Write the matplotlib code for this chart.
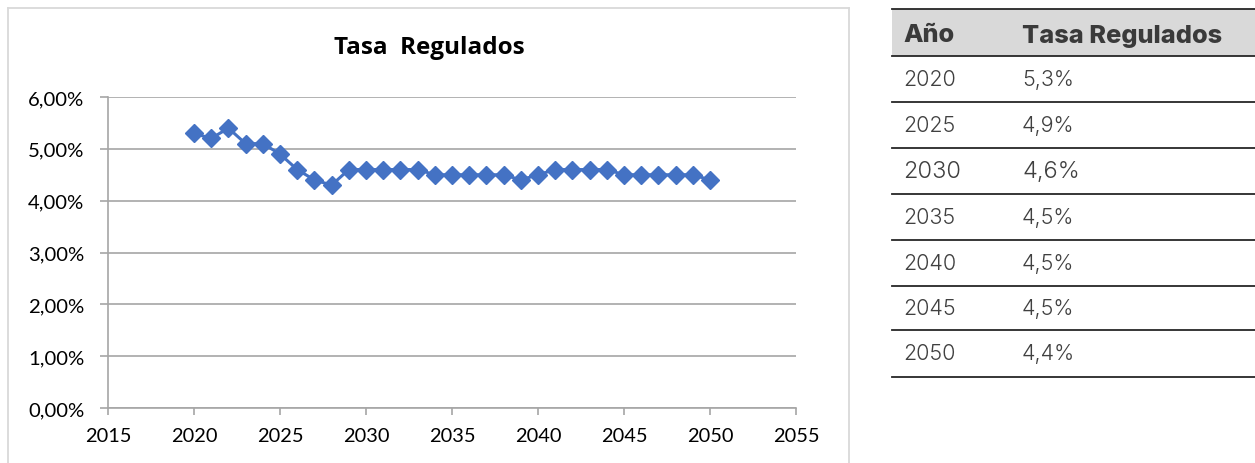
import matplotlib
matplotlib.use("Agg")
import matplotlib.pyplot as plt
from matplotlib.lines import Line2D
from matplotlib.patches import Rectangle
from matplotlib.ticker import FuncFormatter

years = list(range(2020, 2051))
tasa = [5.3, 5.2, 5.4, 5.1, 5.1, 4.9, 4.6, 4.4, 4.3, 4.6,
        4.6, 4.6, 4.6, 4.6, 4.5, 4.5, 4.5, 4.5, 4.5, 4.4,
        4.5, 4.6, 4.6, 4.6, 4.6, 4.5, 4.5, 4.5, 4.5, 4.5,
        4.4]
x_ticks = [2015, 2020, 2025, 2030, 2035, 2040, 2045, 2050, 2055]
y_ticks = [0, 1, 2, 3, 4, 5, 6]
title = "Tasa  Regulados"
table_header = ["Año", "Tasa Regulados"]
table_years = [2020, 2025, 2030, 2035, 2040, 2045, 2050]
table_values = ["5,3%", "4,9%", "4,6%", "4,5%", "4,5%", "4,5%", "4,4%"]

W, H = 1255, 464
fig = plt.figure(figsize=(W / 100, H / 100), dpi=100)

def fx(px):
    return px / W

def fy(py):
    return 1 - py / H

# Chart border (bottom runs off the image)
border = "#D9D9D9"
for xs, ys in [([8, 8], [9, 470]), ([849, 849], [9, 470]), ([8, 849], [9, 9])]:
    fig.add_artist(Line2D([fx(v) for v in xs], [fy(v) for v in ys],
                          color=border, lw=1.3))

ax = fig.add_axes([fx(108), fy(409), fx(796) - fx(108), fy(98) - fy(409)])
ax.plot(years, tasa, color="#4472C4", lw=2.2, marker="D", markersize=8.8,
        markerfacecolor="#4472C4", markeredgecolor="#4472C4", zorder=3)
ax.set_xlim(2015, 2055)
ax.set_ylim(0, 6)
ax.set_xticks(x_ticks)
ax.set_yticks(y_ticks)
ax.yaxis.set_major_formatter(FuncFormatter(lambda v, p: f"{v:.2f}%".replace(".", ",")))
grid_c = "#A6A6A6"
ax.grid(axis="y", color=grid_c, lw=1.2, zorder=0)
for s in ["top", "right"]:
    ax.spines[s].set_visible(False)
for s in ["left", "bottom"]:
    ax.spines[s].set_color(grid_c)
    ax.spines[s].set_linewidth(1.2)
ax.tick_params(axis="y", direction="out", length=6, width=1.2, color=grid_c,
               pad=11, labelsize=14.6, labelcolor="#000000")
ax.tick_params(axis="x", direction="out", length=5, width=1.2, color=grid_c,
               pad=9, labelsize=14.4, labelcolor="#000000")
for lab in ax.get_xticklabels() + ax.get_yticklabels():
    lab.set_fontfamily("Lato")

fig.text(fx(429), fy(48), title, ha="center", va="center", fontsize=17.5,
         fontweight="bold", family="Open Sans", color="#000000")

# Table
tx0, tx1 = 892, 1255
fig.add_artist(Rectangle((fx(tx0), fy(57)), fx(tx1) - fx(tx0), fy(10) - fy(57),
                         facecolor="#D9D9D9", edgecolor="none"))
line_ys = [10, 57, 103, 149, 195, 241, 287, 331, 378]
for ly in line_ys:
    fig.add_artist(Line2D([fx(tx0), fx(tx1)], [fy(ly), fy(ly)], color="#262626", lw=1.3))
col_x = [903, 1022]
for cx, txt in zip(col_x, table_header):
    fig.text(fx(cx), fy(36), txt, ha="left", va="center", fontsize=18.3,
             fontweight="heavy", family="Inter", color="#3A3A3A")
for i, (yr, val) in enumerate(zip(table_years, table_values)):
    yc = (line_ys[i + 1] + line_ys[i + 2]) / 2
    fs = 17 if yr == 2030 else 15.5
    fig.text(fx(col_x[0]), fy(yc), str(yr), ha="left", va="center", fontsize=fs,
             fontweight=300, family="Inter", color="#404040")
    fig.text(fx(col_x[1]), fy(yc), val, ha="left", va="center", fontsize=fs,
             fontweight=300, family="Inter", color="#404040")

fig.savefig("out.png", dpi=100)
